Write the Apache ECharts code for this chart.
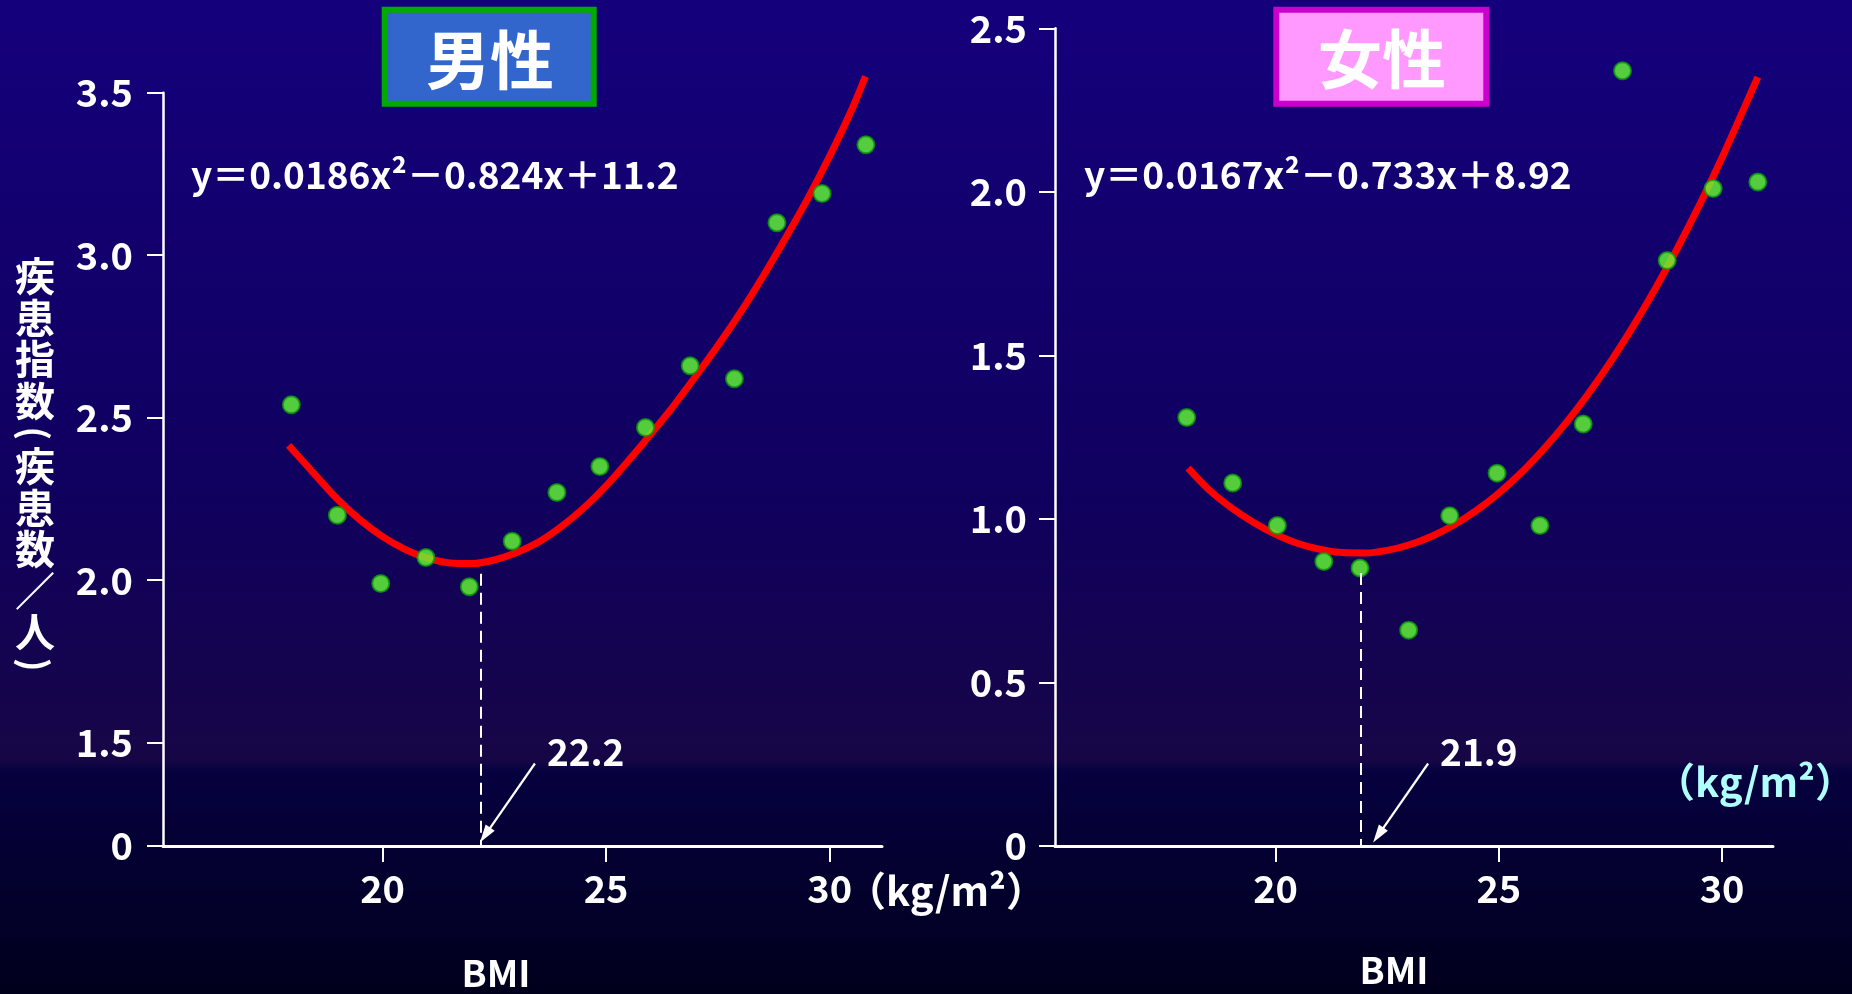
<!DOCTYPE html>
<html>
<head>
<meta charset="utf-8">
<script src="https://cdn.jsdelivr.net/npm/echarts@6/dist/echarts.min.js"></script>
<style>
  html, body { margin: 0; padding: 0; background: #0b0050; }
  #chart { width: 1852px; height: 994px; }
</style>
</head>
<body>
<div id="chart"></div>
<script>
// ---- 男性 (men): BMI vs 疾患指数 ----
const menBMI   = [17.96, 18.99, 19.96, 20.97, 21.94, 22.90, 23.90, 24.86, 25.88, 26.88, 27.87, 28.82, 29.83, 30.81];
const menIndex = [2.54, 2.20, 1.99, 2.07, 1.98, 2.12, 2.27, 2.35, 2.47, 2.66, 2.62, 3.10, 3.19, 3.34];
const menCurveBMI   = [17.9, 18.5, 19.0, 19.5, 20.0, 20.5, 21.0, 21.5, 22.0, 22.5, 23.0, 23.5, 24.0, 24.5,
                       25.0, 25.5, 26.0, 26.5, 27.0, 27.5, 28.0, 28.5, 29.0, 29.5, 30.0, 30.5, 30.8];
const menCurveIndex = [2.415, 2.323, 2.248, 2.185, 2.134, 2.095, 2.068, 2.053, 2.051, 2.062, 2.085, 2.118, 2.165, 2.222,
                       2.29, 2.368, 2.45, 2.535, 2.627, 2.722, 2.823, 2.933, 3.05, 3.172, 3.305, 3.45, 3.55];
const menOptimum = 22.2;
const menEquation = 'y＝0.0186x²－0.824x＋11.2';

// ---- 女性 (women) ----
const womenBMI   = [18.01, 19.04, 20.04, 21.08, 21.89, 22.98, 23.90, 24.96, 25.92, 26.89, 27.77, 28.77, 29.80, 30.80];
const womenIndex = [1.31, 1.11, 0.98, 0.87, 0.85, 0.66, 1.01, 1.14, 0.98, 1.29, 2.37, 1.79, 2.01, 2.03];
const womenCurveBMI   = [18.04, 18.5, 19.0, 19.5, 20.0, 20.5, 21.0, 21.5, 22.0, 22.5, 23.0, 23.5, 24.0, 24.5,
                         25.0, 25.5, 26.0, 26.5, 27.0, 27.5, 28.0, 28.5, 29.0, 29.5, 30.0, 30.5, 30.8];
const womenCurveIndex = [1.155, 1.09, 1.035, 0.99, 0.953, 0.925, 0.907, 0.897, 0.896, 0.904, 0.921, 0.947, 0.982, 1.026,
                         1.079, 1.141, 1.213, 1.293, 1.382, 1.48, 1.587, 1.703, 1.828, 1.962, 2.105, 2.258, 2.351];
const womenOptimum = 21.9;
const womenEquation = 'y＝0.0167x²－0.733x＋8.92';

// ---- axes ----
const xTicks = [20, 25, 30];
// men's y axis is broken below 1.5: the "0" baseline sits at this display value
const MEN_Y_FLOOR = 1.182;
const menYTicks = [MEN_Y_FLOOR, 1.5, 2.0, 2.5, 3.0, 3.5];
const menYTickLabels = ['0', '1.5', '2.0', '2.5', '3.0', '3.5'];
const womenYTicks = [0, 0.5, 1.0, 1.5, 2.0, 2.5];
const womenYTickLabels = ['0', '0.5', '1.0', '1.5', '2.0', '2.5'];

const yTitle = '疾患指数(疾患数／人)';
const xTitle = 'BMI';
const unitText = '（kg/m²）';

const FONT = '"Noto Sans CJK JP", "Noto Sans", sans-serif';
const WHITE = '#ffffff';

const zip = (xs, ys) => xs.map((x, i) => [x, ys[i]]);

function xAxisFor(gridIndex, min, max) {
  return {
    type: 'value', gridIndex, min, max,
    axisLine: { show: true, onZero: false, lineStyle: { color: WHITE, width: 3 } },
    axisTick: { show: true, length: 16, customValues: xTicks, lineStyle: { color: WHITE, width: 2 } },
    axisLabel: { customValues: xTicks, margin: 24, color: WHITE, fontSize: 38, fontWeight: 'bold', fontFamily: FONT },
    splitLine: { show: false }
  };
}

function yAxisFor(gridIndex, min, max, ticks, labels, margin) {
  return {
    type: 'value', gridIndex, min, max,
    axisLine: { show: true, onZero: false, lineStyle: { color: WHITE, width: 2.5 } },
    axisTick: { show: true, length: 16, customValues: ticks, lineStyle: { color: WHITE, width: 2 } },
    axisLabel: {
      customValues: ticks, margin, color: WHITE, fontSize: 38, fontWeight: 'bold', fontFamily: FONT,
      formatter: (v) => {
        const i = ticks.findIndex(t => Math.abs(t - v) < 1e-6);
        return i >= 0 ? labels[i] : '';
      }
    },
    splitLine: { show: false }
  };
}

function curveSeries(idx, xs, ys) {
  return {
    type: 'line', xAxisIndex: idx, yAxisIndex: idx,
    data: zip(xs, ys), symbol: 'none', smooth: 0.3, clip: false,
    lineStyle: { color: '#ff0000', width: 7, cap: 'butt' }, z: 2, silent: true
  };
}

function pointSeries(idx, xs, ys, optimum, dashTop, floor) {
  return {
    type: 'scatter', xAxisIndex: idx, yAxisIndex: idx,
    data: zip(xs, ys), symbol: 'circle', symbolSize: 17,
    itemStyle: { color: '#66ff33', borderColor: '#0c9a0c', borderWidth: 2 },
    z: 3, silent: true,
    markLine: {
      silent: true, symbol: ['none', 'none'], label: { show: false },
      lineStyle: { color: WHITE, width: 2, type: [12, 7] },
      data: [[{ coord: [optimum, dashTop] }, { coord: [optimum, floor] }]]
    }
  };
}

const chart = echarts.init(document.getElementById('chart'), null, { renderer: 'canvas' });

chart.setOption({
  animation: false,
  backgroundColor: 'transparent',
  grid: [
    { left: 163, right: 970, top: 92.7, bottom: 148, containLabel: false },
    { left: 1055, right: 79, top: 28.3, bottom: 148, containLabel: false }
  ],
  xAxis: [xAxisFor(0, 15.09, 31.17), xAxisFor(1, 15.06, 31.14)],
  yAxis: [
    yAxisFor(0, MEN_Y_FLOOR, 3.5, menYTicks, menYTickLabels, 30),
    yAxisFor(1, 0, 2.5, womenYTicks, womenYTickLabels, 28)
  ],
  series: [
    curveSeries(0, menCurveBMI, menCurveIndex),
    pointSeries(0, menBMI, menIndex, menOptimum, 2.02, MEN_Y_FLOOR),
    curveSeries(1, womenCurveBMI, womenCurveIndex),
    pointSeries(1, womenBMI, womenIndex, womenOptimum, 0.835, 0)
  ]
});

// ---- decorations: background, title boxes, equations, axis titles, arrows ----
function text(id, x, y, str, size, opts) {
  return Object.assign({
    type: 'text', id, x, y, silent: true,
    style: Object.assign({
      text: str, fill: WHITE, fontSize: size, fontWeight: 'bold', fontFamily: FONT,
      align: 'left', verticalAlign: 'middle'
    }, (opts && opts.style) || {})
  }, (opts && opts.el) || {});
}

function arrow(id, gridIndex, bmi, floor, tipDx, labelText) {
  const [px, py] = chart.convertToPixel({ gridIndex }, [bmi, floor]);
  const tip = [px + tipDx, py - 3.5];
  const tail = [tip[0] + 55, tip[1] - 79];
  const dx = tip[0] - tail[0], dy = tip[1] - tail[1];
  const len = Math.hypot(dx, dy);
  const ux = dx / len, uy = dy / len, nx = -uy, ny = ux;
  const headLen = 18, headHalf = 5.5;
  const base = [tip[0] - ux * headLen, tip[1] - uy * headLen];
  return [
    { type: 'line', id: id + '-shaft', silent: true, z: 10,
      shape: { x1: tail[0], y1: tail[1], x2: base[0] + ux * 4, y2: base[1] + uy * 4 },
      style: { stroke: WHITE, lineWidth: 2.2 } },
    { type: 'polygon', id: id + '-head', silent: true, z: 10,
      shape: { points: [tip, [base[0] + nx * headHalf, base[1] + ny * headHalf], [base[0] - nx * headHalf, base[1] - ny * headHalf]] },
      style: { fill: WHITE } },
    text(id + '-label', tail[0] + 12, tail[1] - 12, labelText, 37, { el: { z: 10 } })
  ];
}

// vertical y-axis title: one glyph per cell, brackets turned to their vertical form
function verticalTitle(str, cx, firstCenter) {
  const CELL = 41.5, BRACKET_CELL = 24;
  const out = [];
  let top = firstCenter - CELL / 2;
  Array.from(str).forEach((ch, i) => {
    const bracket = ch === '(' || ch === ')';
    const h = bracket ? BRACKET_CELL : CELL;
    out.push(text('yTitle-' + i, cx, top + h / 2, ch, bracket ? 36 : 40, {
      style: { align: 'center' },
      el: bracket ? { rotation: -Math.PI / 2 } : {}
    }));
    top += h;
  });
  return out;
}

const graphics = [
  { type: 'rect', id: 'bg', z: -100, silent: true,
    shape: { x: 0, y: 0, width: 1852, height: 994 },
    style: { fill: { type: 'linear', x: 0, y: 0, x2: 0, y2: 1, colorStops: [
      { offset: 0, color: '#15007c' },
      { offset: 0.5, color: '#10005e' },
      { offset: 0.765, color: '#170646' },
      { offset: 0.776, color: '#06013f' },
      { offset: 1, color: '#00001c' }
    ] } } },

  // title boxes
  { type: 'rect', id: 'menBox', z: 5, silent: true,
    shape: { x: 384.7, y: 9.7, width: 209, height: 94 },
    style: { fill: '#3366cc', stroke: '#00aa00', lineWidth: 6 } },
  text('menTitle', 490, 60, '男性', 64, { style: { align: 'center' }, el: { z: 6 } }),
  { type: 'rect', id: 'womenBox', z: 5, silent: true,
    shape: { x: 1276.3, y: 9.7, width: 210, height: 94 },
    style: { fill: '#ff99ff', stroke: '#cc00cc', lineWidth: 6 } },
  text('womenTitle', 1382, 59, '女性', 64, { style: { align: 'center' }, el: { z: 6 } }),

  // regression equations
  text('menEq', 191, 175, menEquation, 37),
  text('womenEq', 1084, 175, womenEquation, 37),

  // axis titles and units
  ...verticalTitle(yTitle, 35, 276),
  text('menBMI', 496, 973, xTitle, 37, { style: { align: 'center' } }),
  text('womenBMI', 1394, 970, xTitle, 37, { style: { align: 'center' } }),
  text('menUnit', 846, 891, unitText, 40),
  text('womenUnit', 1655, 782, unitText, 40, { style: { fill: '#b0ffff' } }),

  ...arrow('menArrow', 0, menOptimum, MEN_Y_FLOOR, -1, String(menOptimum)),
  ...arrow('womenArrow', 1, womenOptimum, 0, 12.7, String(womenOptimum))
];

chart.setOption({ graphic: graphics });
</script>
</body>
</html>
